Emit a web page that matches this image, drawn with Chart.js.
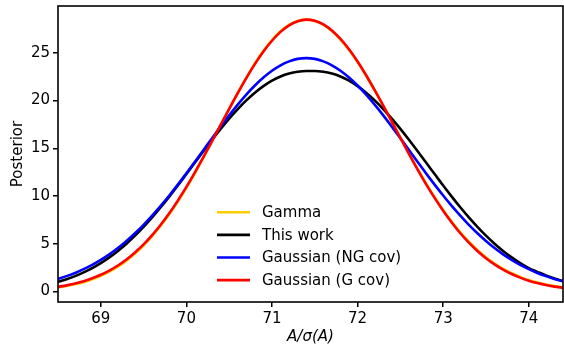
<!DOCTYPE html>
<html>
<head>
<meta charset="utf-8">
<script src="https://cdn.jsdelivr.net/npm/chart.js@4.4.1/dist/chart.umd.min.js"></script>
<style>
  html, body { margin: 0; padding: 0; background: #fff; }
  #box { width: 564px; height: 354px; }
</style>
</head>
<body>
<div id="box"><canvas id="posterior"></canvas></div>
<script>
// valores
const xs = [68.5, 68.6, 68.7, 68.8, 68.9, 69.0, 69.1, 69.2, 69.3, 69.4,
            69.5, 69.6, 69.7, 69.8, 69.9, 70.0, 70.1, 70.2, 70.3, 70.4,
            70.5, 70.6, 70.7, 70.8, 70.9, 71.0, 71.1, 71.2, 71.3, 71.4,
            71.5, 71.6, 71.7, 71.8, 71.9, 72.0, 72.1, 72.2, 72.3, 72.4,
            72.5, 72.6, 72.7, 72.8, 72.9, 73.0, 73.1, 73.2, 73.3, 73.4,
            73.5, 73.6, 73.7, 73.8, 73.9, 74.0, 74.1, 74.2, 74.3, 74.4];

const gamma = [0.43, 0.57, 0.75, 0.98, 1.27, 1.63, 2.07, 2.60, 3.23, 3.97,
               4.82, 5.79, 6.88, 8.10, 9.43, 10.87, 12.41, 14.04, 15.72, 17.43,
               19.13, 20.80, 22.40, 23.88, 25.21, 26.34, 27.26, 27.92, 28.33, 28.47,
               28.33, 27.93, 27.28, 26.39, 25.30, 24.03, 22.60, 21.06, 19.45, 17.79,
               16.12, 14.47, 12.86, 11.32, 9.88, 8.54, 7.31, 6.20, 5.21, 4.34,
               3.58, 2.93, 2.38, 1.91, 1.53, 1.20, 0.94, 0.73, 0.56, 0.43];

const thisWork = [1.02, 1.29, 1.61, 2.00, 2.45, 2.97, 3.57, 4.25, 5.01, 5.85,
                  6.77, 7.76, 8.82, 9.94, 11.10, 12.30, 13.50, 14.71, 15.89, 17.03,
                  18.11, 19.11, 20.02, 20.82, 21.51, 22.08, 22.51, 22.82, 23.01, 23.09,
                  23.09, 23.01, 22.82, 22.51, 22.08, 21.51, 20.82, 20.02, 19.11, 18.11,
                  17.03, 15.89, 14.71, 13.50, 12.30, 11.10, 9.94, 8.82, 7.76, 6.77,
                  5.85, 5.01, 4.25, 3.57, 2.97, 2.45, 2.06, 1.68, 1.36, 1.10];

const gaussNG = [1.32, 1.61, 1.94, 2.34, 2.79, 3.31, 3.89, 4.55, 5.29, 6.10,
                 6.98, 7.94, 8.96, 10.05, 11.19, 12.37, 13.59, 14.82, 16.06, 17.27,
                 18.45, 19.57, 20.62, 21.57, 22.41, 23.12, 23.69, 24.10, 24.36, 24.44,
                 24.36, 24.10, 23.69, 23.12, 22.41, 21.57, 20.62, 19.57, 18.45, 17.27,
                 16.06, 14.82, 13.59, 12.37, 11.19, 10.05, 8.96, 7.94, 6.98, 6.10,
                 5.29, 4.55, 3.89, 3.31, 2.79, 2.34, 1.94, 1.61, 1.32, 1.07];

const gaussG = [0.49, 0.64, 0.84, 1.08, 1.38, 1.75, 2.19, 2.72, 3.35, 4.09,
                4.93, 5.90, 6.99, 8.19, 9.52, 10.95, 12.48, 14.09, 15.75, 17.44,
                19.12, 20.77, 22.35, 23.81, 25.13, 26.26, 27.19, 27.87, 28.30, 28.47,
                28.36, 27.98, 27.34, 26.46, 25.37, 24.09, 22.65, 21.09, 19.46, 17.78,
                16.09, 14.42, 12.80, 11.25, 9.80, 8.45, 7.22, 6.10, 5.12, 4.25,
                3.49, 2.84, 2.29, 1.83, 1.45, 1.13, 0.88, 0.68, 0.51, 0.39];

const xTicks = [69, 70, 71, 72, 73, 74];
const yTicks = [0, 5, 10, 15, 20, 25];

const fuente = 'DejaVu Sans';

function puntos(valores) {
    return xs.map((x, i) => ({ x: x, y: valores[i] }));
}

function serie(label, valores, color, orden) {
    return {
        label: label,
        data: puntos(valores),
        borderColor: color,
        backgroundColor: color,
        borderWidth: 2.6,
        pointRadius: 0,
        cubicInterpolationMode: 'monotone',
        fill: false,
        order: orden
    };
}

// marco completo y leyenda al estilo matplotlib
const marco = {
    id: 'marco',
    afterDraw(chart) {
        const { ctx, chartArea } = chart;
        ctx.save();
        ctx.strokeStyle = '#000';
        ctx.lineWidth = 1.6;
        ctx.strokeRect(chartArea.left, chartArea.top,
            chartArea.right - chartArea.left, chartArea.bottom - chartArea.top);

        const x0 = chartArea.left + 159;
        const y0 = chartArea.top + 206.3;
        ctx.font = '15px "' + fuente + '"';
        ctx.textBaseline = 'middle';
        ctx.fillStyle = '#000';
        chart.data.datasets.forEach((ds, i) => {
            const y = y0 + i * 22.6;
            ctx.strokeStyle = ds.borderColor;
            ctx.lineWidth = 2.6;
            ctx.beginPath();
            ctx.moveTo(x0, y);
            ctx.lineTo(x0 + 33, y);
            ctx.stroke();
            ctx.fillText(ds.label, x0 + 45, y + 1);
        });
        ctx.restore();
    }
};

const ctx = document.getElementById('posterior').getContext('2d');
const myChart = new Chart(ctx, {
    type: 'line',
    data: {
        datasets: [
            serie('Gamma', gamma, '#ffcc00', 3),
            serie('This work', thisWork, '#000000', 2),
            serie('Gaussian (NG cov)', gaussNG, '#0000ff', 1),
            serie('Gaussian (G cov)', gaussG, '#ff0000', 0)
        ]
    },
    options: {
        responsive: true,
        maintainAspectRatio: false,
        animation: false,
        layout: { padding: { left: 0, right: 1, top: 6, bottom: 0 } },
        scales: {
            x: {
                type: 'linear',
                min: 68.5,
                max: 74.4,
                afterBuildTicks: (scale) => { scale.ticks = xTicks.map(v => ({ value: v })); },
                afterFit: (scale) => {
                    scale.height = 52;
                    scale.paddingLeft = 0;
                    scale.paddingRight = 0;
                },
                border: { display: false },
                grid: { drawOnChartArea: false, drawTicks: true, tickLength: 5, color: '#000', lineWidth: 1.5 },
                ticks: { color: '#000', padding: 3, font: { family: fuente, size: 15 }, maxRotation: 0 },
                title: {
                    display: true,
                    text: 'A/σ(A)',
                    color: '#000',
                    font: { family: fuente, size: 15, style: 'italic' },
                    padding: { top: 0, bottom: 7.5 }
                }
            },
            y: {
                min: -1.1,
                max: 29.9,
                afterBuildTicks: (scale) => { scale.ticks = yTicks.map(v => ({ value: v })); },
                afterFit: (scale) => {
                    scale.width = 58;
                    scale.paddingTop = 0;
                    scale.paddingBottom = 0;
                },
                border: { display: false },
                grid: { drawOnChartArea: false, drawTicks: true, tickLength: 5, color: '#000', lineWidth: 1.5 },
                ticks: { color: '#000', padding: 3, font: { family: fuente, size: 15 } },
                title: {
                    display: true,
                    text: 'Posterior',
                    color: '#000',
                    font: { family: fuente, size: 15 },
                    padding: { top: 9.5, bottom: 0 }
                }
            }
        },
        plugins: {
            legend: { display: false },
            tooltip: { enabled: false }
        }
    },
    plugins: [marco]
});
</script>
</body>
</html>
